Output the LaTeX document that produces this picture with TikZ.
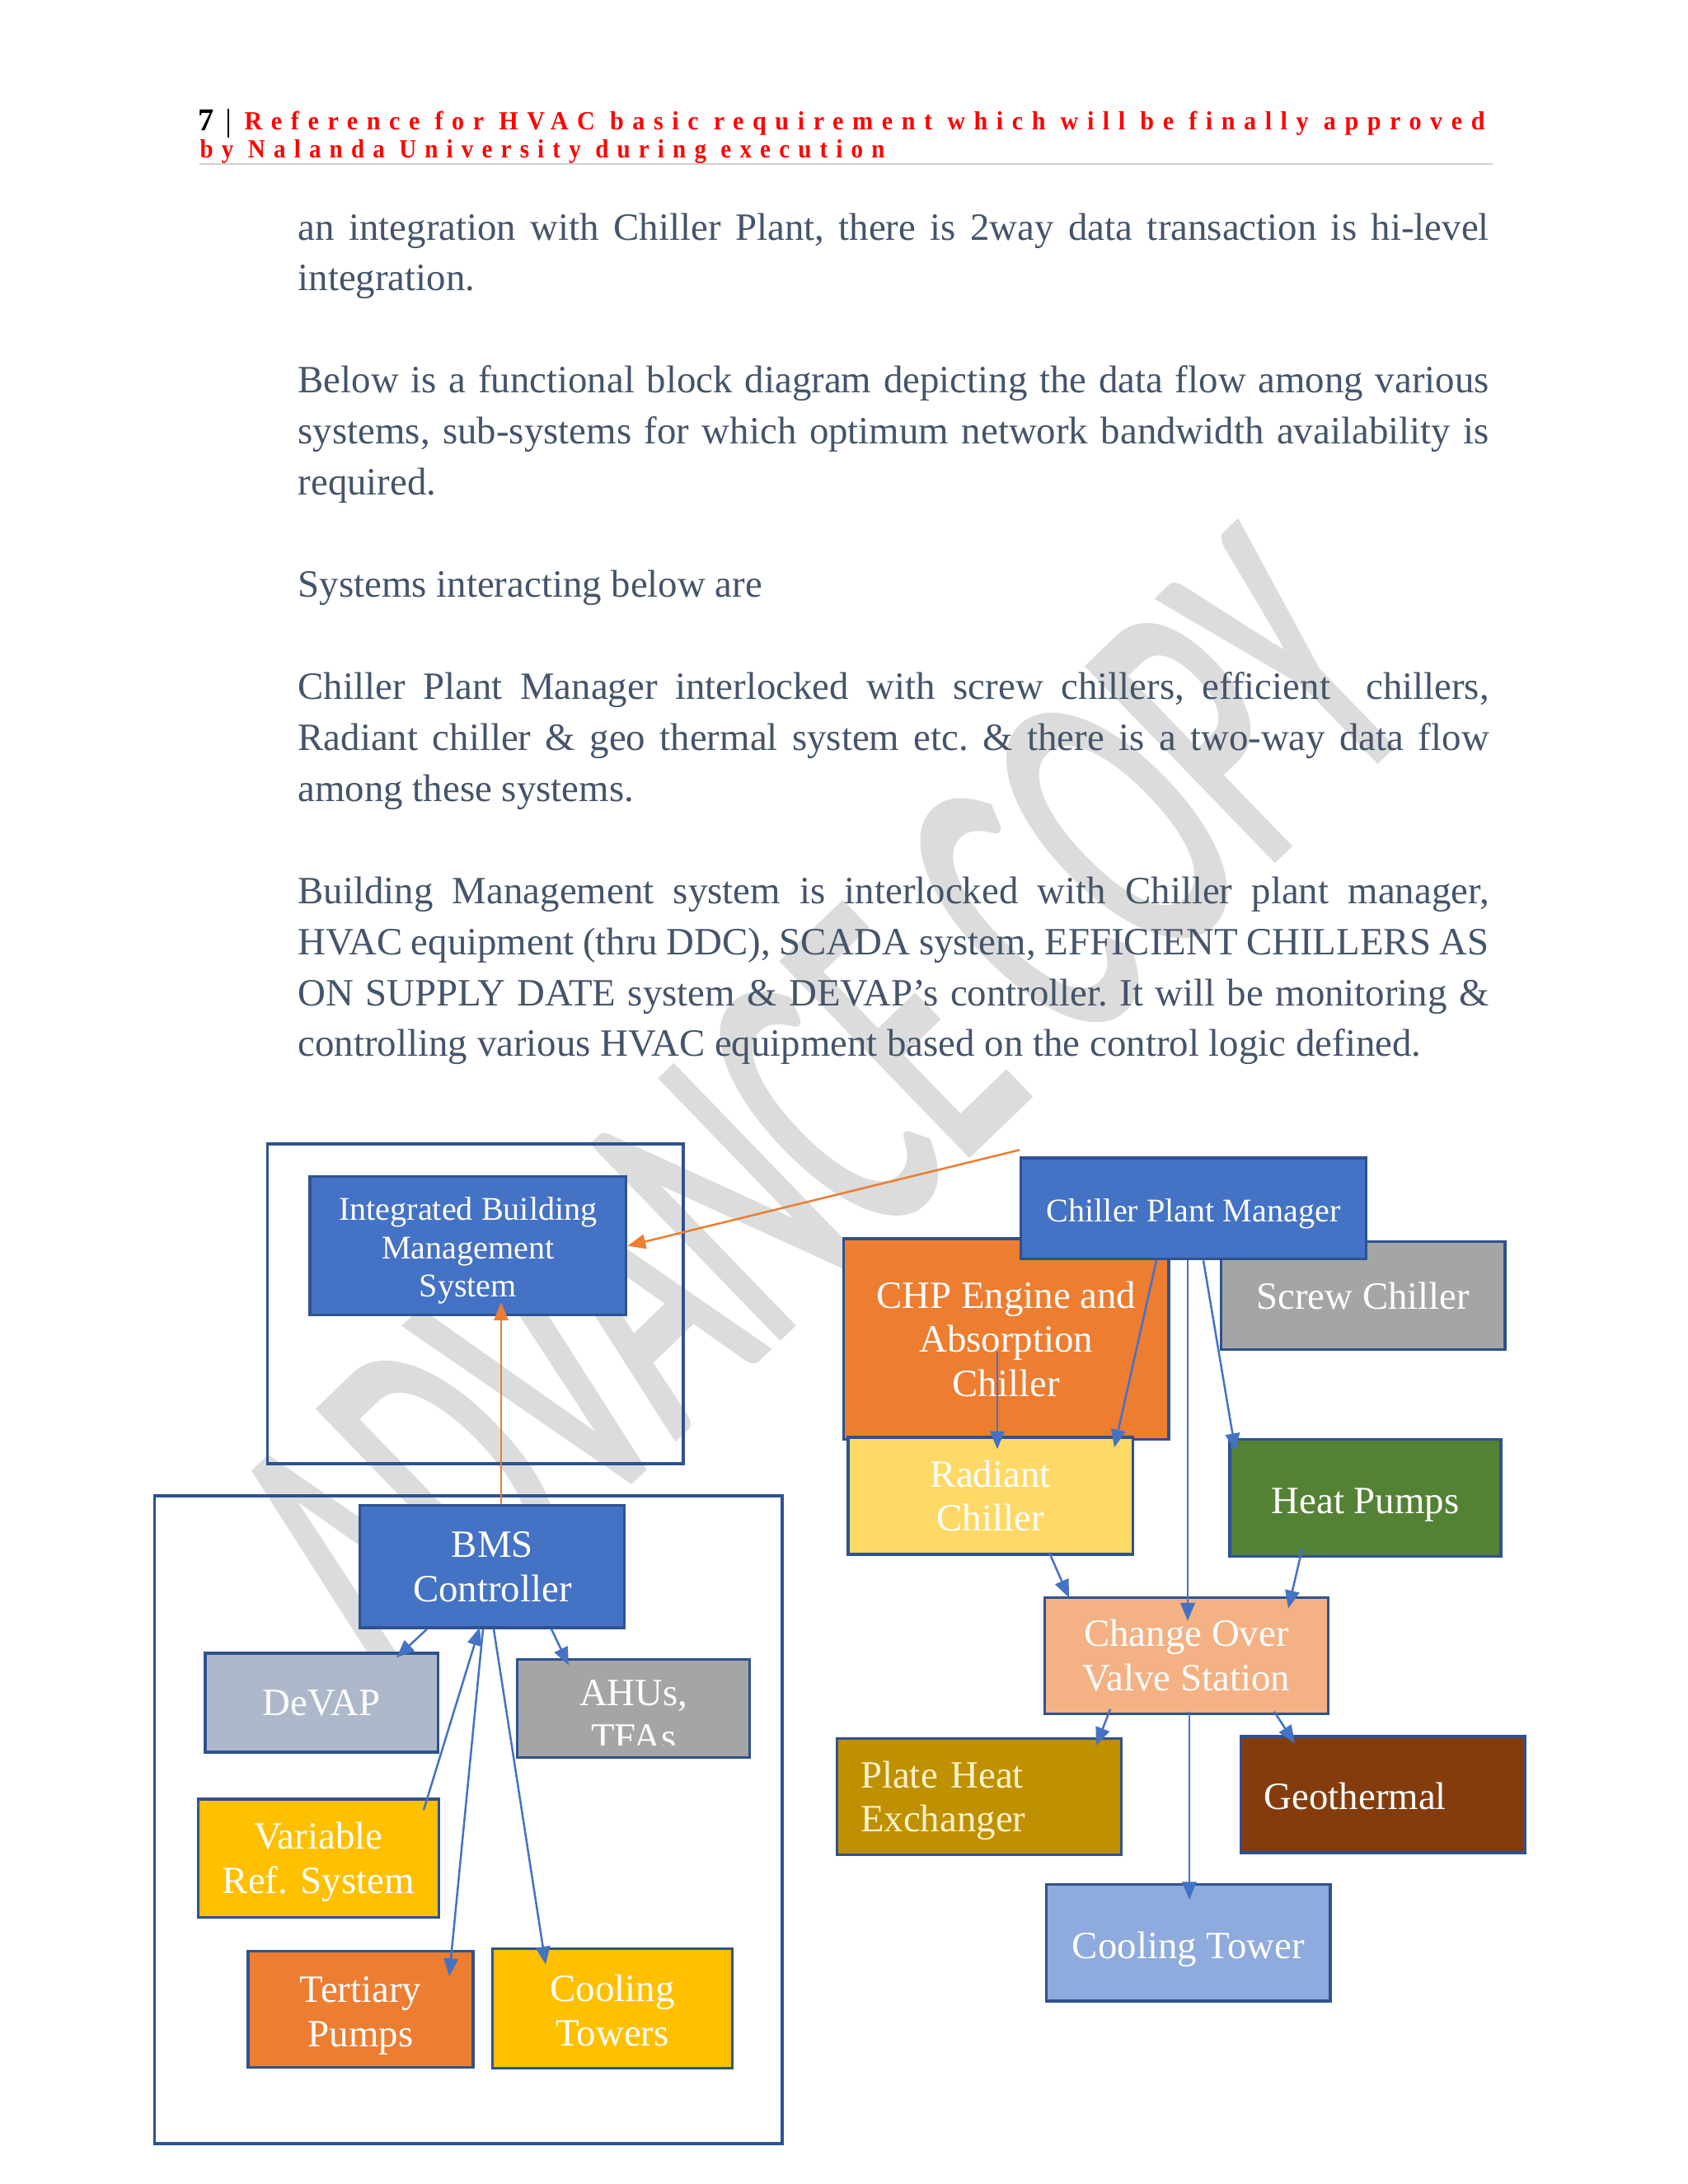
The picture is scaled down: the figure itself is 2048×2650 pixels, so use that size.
\documentclass[tikz,border=0pt]{standalone}
\usepackage{fontspec}
\usepackage{graphicx}
\setmainfont{Liberation Serif}
\newfontfamily\wmfont{Carlito}[FakeBold=2]
\newfontfamily\hdrfont{Liberation Serif}[LetterSpace=35]
\usetikzlibrary{arrows.meta,calc}
\definecolor{txt}{HTML}{44546A}
\definecolor{bdr}{HTML}{2F528F}
\definecolor{blu}{HTML}{4472C4}
\definecolor{orng}{HTML}{ED7D31}
\definecolor{gry}{HTML}{A5A5A5}
\definecolor{ylw}{HTML}{FFD966}
\definecolor{grn}{HTML}{548235}
\definecolor{peach}{HTML}{F4B183}
\definecolor{mustard}{HTML}{BF9000}
\definecolor{brwn}{HTML}{843C0C}
\definecolor{ltblu}{HTML}{8FAADC}
\definecolor{slate}{HTML}{ADB9CA}
\definecolor{gold}{HTML}{FFC000}
\definecolor{cream}{HTML}{FFF2CC}
\definecolor{wmc}{HTML}{DCDCDC}
\definecolor{rulec}{HTML}{D0D0D0}
\definecolor{hdrred}{HTML}{FF0000}
\tikzset{
  body/.style={inner sep=0pt, anchor=base west, text width=431.8pt, align=justify,
    font=\fontsize{14}{18.5}\selectfont\frenchspacing, text=txt},
  box/.style={draw=bdr, line width=1pt, inner sep=0pt, text=white, align=center,
    font=\fontsize{14}{16.1}\selectfont},
  cont/.style={draw=bdr, line width=1pt, inner sep=0pt},
  conn/.style={draw=blu, line width=0.75pt, -{Triangle[length=6.5pt,width=5.2pt]}},
  oconn/.style={conn, draw=orng}
}
\begin{document}
\begin{tikzpicture}[x=0.29883pt,y=-0.29883pt]
\useasboundingbox (0,0) rectangle (2048,2650);
\fill[white] (0,0) rectangle (2048,2650);

% watermark
\node[rotate=44, inner sep=0pt, text=wmc] (wm) at (994,1350)
  {\scalebox{0.54}[1]{\wmfont\fontsize{150}{150}\selectfont ADVANCE COPY}};

% header
\node[anchor=base west, inner sep=0pt, font=\bfseries\fontsize{11.5}{12}\selectfont] (pnum) at (240,158) {7};
\draw[line width=0.7pt] (277,132) -- (277,167);
\node[anchor=base west, inner sep=0pt, text=hdrred] (hdra) at (296,157)
  {\resizebox{449.7pt}{\height}{\hdrfont\bfseries\fontsize{9.5}{10}\selectfont Reference for HVAC basic requirement which will be finally approved}};
\node[anchor=base west, inner sep=0pt, text=hdrred] (hdrb) at (242,191)
  {\resizebox{248.3pt}{\height}{\hdrfont\bfseries\fontsize{9.5}{10}\selectfont by Nalanda University during execution}};
\draw[rulec, line width=0.8pt] (242,199) -- (1811,199);

% body text
\node[body] (p1) at (361,291) {an integration with Chiller Plant, there is 2way data transaction is hi-level\linebreak integration.};
\node[body] (p2) at (361,476.8) {Below is a functional block diagram depicting the data flow among various\linebreak systems, sub-systems for which optimum network bandwidth availability is\linebreak required.};
\node[body] (p3) at (361,724.6) {Systems interacting below are};
\node[body] (p4) at (361,848.5) {Chiller Plant Manager interlocked with screw chillers, efficient\ \ chillers,\linebreak Radiant chiller \& geo thermal system etc. \& there is a two-way data flow\linebreak among these systems.};
\node[body] (p5) at (361,1096.2) {Building Management system is interlocked with Chiller plant manager,\linebreak HVAC equipment (thru DDC), SCADA system, EFFICIENT CHILLERS AS\linebreak ON SUPPLY DATE system \& DEVAP’s controller. It will be monitoring \&\linebreak controlling various HVAC equipment based on the control logic defined.};

% containers
\node[cont, minimum width=150.73pt, minimum height=115.95pt] (ibmsc) at (576.8,1582) {};
\node[cont, minimum width=227.56pt, minimum height=234.88pt] (bmsc) at (568.25,2208) {};

% left boxes
\node[box, fill=blu, font=\fontsize{12}{13.8}\selectfont, minimum width=114.72pt, minimum height=50.2pt] (ibms) at (567.85,1511.7) {\rule{0pt}{11.8pt}Integrated Building\\Management\\System};
\node[box, fill=blu, minimum width=95.92pt, minimum height=44.32pt] (bms) at (597.3,1900.85) {BMS\\Controller};
\node[box, fill=slate, minimum width=84.33pt, minimum height=35.86pt] (devap) at (390.1,2066) {DeVAP};
\node[box, fill=gry, minimum width=84.3pt, minimum height=35.68pt] (ahus) at (768.75,2073) {};
\begin{scope}
  \clip (ahus.north west) rectangle ($(ahus.south east)+(0,-17)$);
  \node[inner sep=0pt, text=white, align=center, font=\fontsize{14}{16.1}\selectfont] (ahustext) at ($(ahus.center)+(0,8)$) {AHUs,\\TFAs};
\end{scope}
\node[box, fill=gold, minimum width=87.2pt, minimum height=42.94pt] (vrf) at (386.3,2254.85) {\rule{0pt}{12.6pt}Variable\\Ref. System};
\node[box, fill=orng, minimum width=81.58pt, minimum height=42.02pt] (tp) at (437.5,2438) {\rule{0pt}{14.1pt}Tertiary\\Pumps};
\node[box, fill=gold, minimum width=86.9pt, minimum height=43.33pt] (cts) at (743,2436.8) {\rule{0pt}{11.5pt}Cooling\\Towers};

% right boxes
\node[box, fill=orng, minimum width=117.86pt, minimum height=72.83pt] (chp) at (1220.8,1624.85) {CHP Engine and\\Absorption\\Chiller};
\node[box, fill=gry, minimum width=102.95pt, minimum height=39.15pt] (screw) at (1653.75,1572.2) {Screw Chiller};
\node[box, fill=blu, font=\fontsize{12}{13.8}\selectfont, minimum width=125.27pt, minimum height=36.67pt] (cpm) at (1448.1,1466.35) {\rule{0pt}{12.4pt}Chiller Plant Manager};
\node[box, fill=ylw, minimum width=103.19pt, minimum height=42.43pt] (rc) at (1201.65,1815) {Radiant\\Chiller};
\node[box, fill=grn, minimum width=98.31pt, minimum height=42.31pt] (hp) at (1656.5,1817.5) {\rule{0pt}{14.1pt}Heat Pumps};
\node[box, fill=peach, minimum width=102.95pt, minimum height=42.1pt] (cov) at (1439.45,2008.75) {Change Over\\Valve Station};
\node[box, fill=mustard, text=cream, text width=86pt, align=left, minimum width=102.92pt, minimum height=42.1pt] (phe) at (1188,2180) {\rule{0pt}{12.6pt}Plate Heat\\Exchanger};
\node[box, fill=brwn, text width=86pt, align=left, minimum width=102.92pt, minimum height=42.14pt] (geo) at (1677.7,2177.5) {\rule{0pt}{11pt}Geothermal};
\node[box, fill=ltblu, minimum width=102.92pt, minimum height=42.22pt] (ct) at (1441.8,2357.35) {\rule{0pt}{14.4pt}Cooling Tower};

% connectors
\draw[oconn] ($(cpm.north west)+(0,-8)$) -- (ibms.east);
\draw[oconn] (608,0 |- bms.north) -- ($(608,0 |- ibms.south)+(0,-17)$);
\draw[conn] (518,0 |- bms.south) -- ($(481,0 |- devap.north)+(0,7)$);
\draw[conn] (669,0 |- bms.south) -- ($(690,0 |- ahus.north)+(0,9)$);
\draw[conn] ($(514,0 |- vrf.north)+(0,15)$) -- ($(582,0 |- bms.south)+(0,-2)$);
\draw[conn] (586,0 |- bms.south) -- ($(545,0 |- tp.north)+(0,32)$);
\draw[conn] (599,0 |- bms.south) -- ($(662,0 |- cts.north)+(0,21)$);
\draw[conn] ($(1210,0 |- chp.center)+(0,15)$) -- ($(1210,0 |- rc.north)+(0,16)$);
\draw[conn] (1403,0 |- cpm.south) -- ($(1352,0 |- rc.north)+(0,14)$);
\draw[conn] (1460,0 |- cpm.south) -- ($(1499,0 |- hp.north)+(0,16)$);
\draw[conn] (1441,0 |- cpm.south) -- ($(1441,0 |- cov.north)+(0,30)$);
\draw[conn] ($(1273,0 |- rc.south)+(0,-4)$) -- ($(1297,0 |- cov.north)+(0,2)$);
\draw[conn] ($(1580,0 |- hp.south)+(0,-11)$) -- ($(1563,0 |- cov.north)+(0,15)$);
\draw[conn] ($(1347,0 |- cov.south)+(0,-7)$) -- ($(1330,0 |- phe.north)+(0,10)$);
\draw[conn] ($(1546,0 |- cov.south)+(0,-4)$) -- ($(1571,0 |- geo.north)+(0,10)$);
\draw[conn] ($(1443,0 |- cov.south)+(0,-4)$) -- ($(1443,0 |- ct.north)+(0,20)$);
\end{tikzpicture}
\end{document}
